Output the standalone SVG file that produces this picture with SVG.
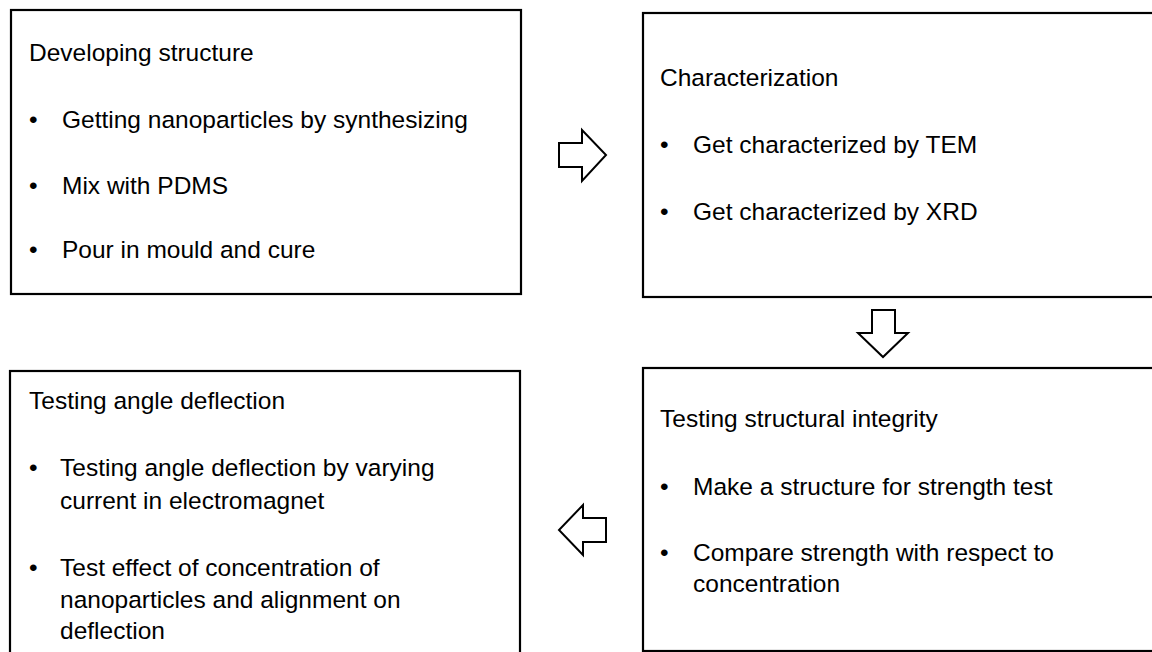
<svg xmlns="http://www.w3.org/2000/svg" width="1152" height="652" viewBox="0 0 1152 652">
  <style>
    .box { fill: #ffffff; stroke: #000000; stroke-width: 2.2; }
    .arrow { fill: #ffffff; stroke: #000000; stroke-width: 2; stroke-linejoin: miter; }
    text { font-family: "Liberation Sans", Arial, sans-serif; font-size: 24.5px; fill: #000000; }
  </style>
  <rect width="1152" height="652" fill="#ffffff"/>

  <!-- block arrows between the stages -->
  <g id="connectors">
    <polygon class="arrow" points="559,143 582,143 582,130 606,155 582,181 582,167 559,167"/>
    <polygon class="arrow" points="872,310 895,310 895,333 908,333 883,357 858,333 872,333"/>
    <polygon class="arrow" points="606,518 583,518 583,505 559,530 583,555 583,542 606,542"/>
  </g>

  <g id="developing-structure">
    <rect class="box" x="11" y="10" width="510" height="284"/>
    <text x="29" y="61">Developing structure</text>
    <text x="29" y="128">•</text>
    <text x="62" y="128">Getting nanoparticles by synthesizing</text>
    <text x="29" y="194">•</text>
    <text x="62" y="194">Mix with PDMS</text>
    <text x="29" y="258">•</text>
    <text x="62" y="258">Pour in mould and cure</text>
  </g>

  <g id="characterization">
    <rect class="box" x="643" y="13" width="520" height="284"/>
    <text x="660" y="86">Characterization</text>
    <text x="660" y="153">•</text>
    <text x="693" y="153">Get characterized by TEM</text>
    <text x="660" y="220">•</text>
    <text x="693" y="220">Get characterized by XRD</text>
  </g>

  <g id="structural-integrity">
    <rect class="box" x="643" y="368" width="520" height="283"/>
    <text x="660" y="427">Testing structural integrity</text>
    <text x="660" y="495">•</text>
    <text x="693" y="495">Make a structure for strength test</text>
    <text x="660" y="561">•</text>
    <text x="693" y="561">Compare strength with respect to</text>
    <text x="693" y="592">concentration</text>
  </g>

  <g id="angle-deflection">
    <rect class="box" x="10" y="371" width="510" height="320"/>
    <text x="29" y="409">Testing angle deflection</text>
    <text x="29" y="476">•</text>
    <text x="60" y="476">Testing angle deflection by varying</text>
    <text x="60" y="509">current in electromagnet</text>
    <text x="29" y="576">•</text>
    <text x="60" y="576">Test effect of concentration of</text>
    <text x="60" y="608">nanoparticles and alignment on</text>
    <text x="60" y="639">deflection</text>
  </g>
</svg>
